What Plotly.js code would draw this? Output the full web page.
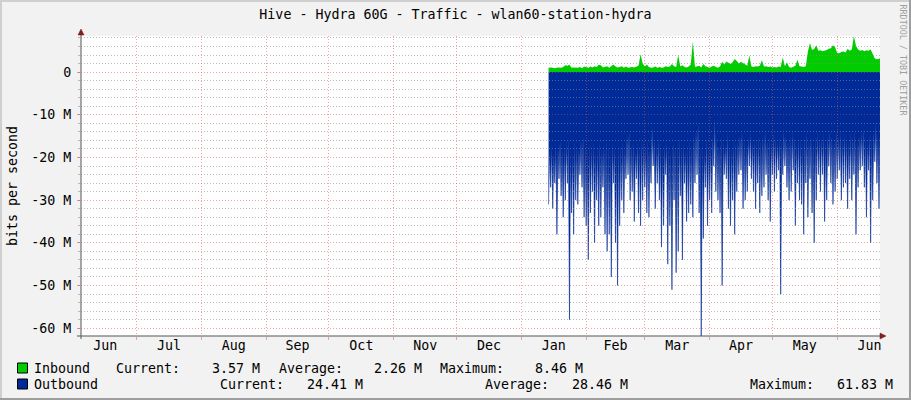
<!DOCTYPE html>
<html>
<head>
<meta charset="utf-8">
<script src="https://cdn.plot.ly/plotly-3.0.1.min.js"></script>
<style>
html,body{margin:0;padding:0;background:#F2F2F2;}
#chart{width:911px;height:400px;}
</style>
</head>
<body>
<div id="chart"></div>
<script>
// ---------------- data ----------------
const chartTitle = 'Hive - Hydra 60G - Traffic - wlan60-station-hydra';
const yAxisTitle = 'bits per second';
const firstSampleDay = '2023-01-14';           // one sample per day
const xRange = ['2022-06-04 10:30', '2023-06-21 11:30'];
const yRange = [-61.83, 8.46];                  // in M bits per second

// Inbound (positive, M)
const inbound = [
  1.0, 1.1, 1.0, 0.9, 1.0, 1.1, 1.0, 1.2, 1.6, 1.5,
  1.7, 1.0, 1.1, 1.0, 1.0, 1.2, 0.9, 1.3, 1.1, 1.0,
  1.3, 1.1, 1.4, 1.2, 1.7, 1.6, 1.1, 1.2, 1.4, 1.0,
  1.5, 1.8, 1.3, 1.1, 1.2, 1.4, 1.0, 1.3, 1.0, 1.1,
  1.2, 1.1, 1.3, 1.5, 4.2, 2.0, 1.3, 1.8, 1.2, 1.0,
  1.1, 1.3, 1.0, 1.2, 1.0, 1.1, 1.4, 1.2, 1.3, 1.9,
  1.4, 1.2, 4.0, 1.3, 1.6, 1.2, 1.1, 1.3, 1.8, 7.2,
  1.2, 1.3, 1.5, 1.1, 1.9, 1.4, 1.2, 1.0, 1.3, 1.5,
  1.2, 1.0, 1.3, 2.4, 1.8, 2.5, 2.2, 1.9, 2.3, 3.1,
  2.6, 2.0, 2.4, 2.1, 1.6, 1.5, 3.9, 1.3, 1.2, 1.4,
  1.3, 1.5, 2.8, 1.3, 1.4, 1.2, 1.3, 1.1, 1.2, 1.1,
  1.3, 1.2, 3.4, 1.4, 2.3, 1.2, 1.0, 1.3, 1.5, 2.9,
  1.4, 1.3, 1.2, 1.4, 4.8, 6.8, 5.2, 5.4, 6.3, 5.0,
  5.1, 4.9, 5.0, 5.2, 5.5, 5.6, 6.3, 5.8, 4.5, 4.4,
  4.7, 4.8, 4.6, 5.5, 5.0, 5.3, 8.46, 6.2, 5.3, 5.0,
  5.2, 4.9, 5.1, 5.0, 5.3, 4.4, 3.2, 3.0, 3.1, 3.57
];

// Outbound, deepest value of each day (negative, M)
const outboundPeak = [
  -31, -27, -32, -26, -38, -25, -29, -34, -30, -26,
  -58, -33, -38, -30, -31, -24, -27, -34, -36, -44,
  -33, -28, -40, -30, -36, -34, -27, -38, -42, -38,
  -48, -26, -40, -50, -36, -30, -33, -25, -24, -30,
  -28, -35, -25, -33, -36, -30, -27, -33, -34, -26,
  -22, -32, -26, -30, -41, -36, -24, -45, -36, -51,
  -30, -47, -42, -29, -44, -26, -35, -33, -31, -34,
  -26, -24, -33, -61.83, -39, -27, -36, -30, -33, -22,
  -28, -30, -33, -50, -24, -25, -32, -36, -30, -38,
  -28, -24, -23, -32, -30, -28, -22, -25, -28, -32,
  -26, -33, -29, -27, -24, -30, -35, -24, -28, -25,
  -23, -52, -24, -22, -27, -30, -28, -23, -36, -26,
  -30, -31, -38, -26, -34, -25, -33, -40, -30, -24,
  -28, -24, -35, -30, -22, -26, -31, -28, -25, -23,
  -30, -27, -26, -32, -25, -30, -24, -38, -27, -23,
  -22, -27, -34, -23, -40, -30, -21, -26, -32, -24.41
];

// Outbound, shallowest value half a day later (negative, M)
const outboundTrough = [
  -18, -17, -19, -17, -18, -16, -18, -17, -16, -15,
  -17, -18, -16, -17, -18, -16, -15, -17, -18, -16,
  -17, -16, -18, -17, -16, -18, -17, -16, -17, -18,
  -16, -17, -18, -16, -17, -16, -18, -15, -14, -17,
  -16, -18, -16, -17, -15, -16, -17, -16, -18, -13,
  -16, -17, -15, -16, -18, -17, -16, -17, -18, -16,
  -17, -16, -15, -17, -16, -18, -17, -16, -17, -15,
  -14, -12, -17, -16, -18, -15, -17, -16, -15, -11,
  -16, -17, -15, -16, -17, -14, -16, -17, -15, -16,
  -16, -15, -14, -16, -17, -15, -14, -16, -15, -16,
  -15, -16, -15, -14, -16, -15, -16, -14, -15, -16,
  -15, -16, -14, -15, -16, -15, -14, -15, -16, -15,
  -15, -16, -15, -14, -16, -15, -16, -15, -14, -15,
  -15, -14, -16, -15, -14, -15, -16, -14, -15, -14,
  -15, -14, -15, -16, -14, -15, -14, -16, -15, -14,
  -13, -15, -16, -14, -15, -14, -12, -15, -14, -15
];

const yTickValues = [0, -10, -20, -30, -40, -50, -60];
const yTickLabels = ['0', '-10 M', '-20 M', '-30 M', '-40 M', '-50 M', '-60 M'];

const seriesNames   = ['Inbound', 'Outbound'];
const seriesColors  = ['#00CC00', '#002A97'];
const currentVals   = ['3.57 M', '24.41 M'];
const averageVals   = ['2.26 M', '28.46 M'];
const maximumVals   = ['8.46 M', '61.83 M'];
const creditText    = 'RRDTOOL / TOBI OETIKER';

// ---------------- build series ----------------
function dayString(i, hour) {
  const p = firstSampleDay.split('-').map(Number);
  const d = new Date(Date.UTC(p[0], p[1] - 1, p[2] + i, hour));
  return d.toISOString().slice(0, 16).replace('T', ' ');
}
const inX = inbound.map((_, i) => dayString(i, 0));
const outX = [], outY = [];
outboundPeak.forEach((v, i) => {
  outX.push(dayString(i, 0));  outY.push(v);
  outX.push(dayString(i, 12)); outY.push(outboundTrough[i]);
});

// ---------------- layout helpers ----------------
const FONT = 'DejaVu Sans Mono, monospace';
const FS = 13.3;
const L = 81, R = 880, T = 36, B = 336;
const px = x => (x - L) / (R - L);
const py = y => (B - y) / (B - T);

const gridGrey = 'rgba(143,143,143,0.6)';
const gridRed  = 'rgba(222,79,79,0.5)';
const dash = '1px,2px';

const traces = [
  {type: 'scatter', mode: 'lines', x: outX, y: outY, name: seriesNames[1],
   fill: 'tozeroy', fillcolor: seriesColors[1], line: {color: seriesColors[1], width: 0.6},
   hoverinfo: 'skip', xaxis: 'x', yaxis: 'y'},
  {type: 'scatter', mode: 'lines', x: inX, y: inbound, name: seriesNames[0],
   fill: 'tozeroy', fillcolor: seriesColors[0], line: {color: seriesColors[0], width: 0},
   hoverinfo: 'skip', xaxis: 'x', yaxis: 'y'},
  // empty trace that owns the grid subplot drawn above the areas
  {type: 'scatter', mode: 'lines', x: [], y: [], xaxis: 'x2', yaxis: 'y2',
   hoverinfo: 'skip', showlegend: false}
];

const shapes = [
  // white canvas
  {type: 'rect', xref: 'paper', yref: 'paper', x0: 0, x1: 1, y0: 0, y1: 1,
   fillcolor: '#FFFFFF', line: {width: 0}, layer: 'below'},
  // frame (shade A top/left, shade B bottom/right)
  {type: 'rect', xref: 'paper', yref: 'paper', x0: px(0), x1: px(911), y0: py(2), y1: py(0),
   fillcolor: '#CFCFCF', line: {width: 0}},
  {type: 'rect', xref: 'paper', yref: 'paper', x0: px(0), x1: px(2), y0: py(400), y1: py(0),
   fillcolor: '#CFCFCF', line: {width: 0}},
  {type: 'rect', xref: 'paper', yref: 'paper', x0: px(909), x1: px(911), y0: py(400), y1: py(0),
   fillcolor: '#9E9E9E', line: {width: 0}},
  {type: 'rect', xref: 'paper', yref: 'paper', x0: px(0), x1: px(911), y0: py(400), y1: py(398),
   fillcolor: '#9E9E9E', line: {width: 0}},
  // axis lines with their small overhangs
  {type: 'line', xref: 'paper', yref: 'paper', x0: 0, x1: 0, y0: py(339), y1: py(31),
   line: {color: '#555555', width: 1}},
  {type: 'line', xref: 'paper', yref: 'paper', x0: px(77), x1: px(884), y0: 0, y1: 0,
   line: {color: '#555555', width: 1}},
  // arrows
  {type: 'path', xref: 'paper', yref: 'paper',
   path: `M ${px(81)} ${py(29)} L ${px(78)} ${py(35)} L ${px(84)} ${py(35)} Z`,
   fillcolor: '#801F1F', line: {color: '#801F1F', width: 0.5}},
  {type: 'path', xref: 'paper', yref: 'paper',
   path: `M ${px(886)} ${py(336)} L ${px(880)} ${py(333)} L ${px(880)} ${py(339)} Z`,
   fillcolor: '#801F1F', line: {color: '#801F1F', width: 0.5}},
  // legend swatches
  {type: 'rect', xref: 'paper', yref: 'paper', x0: px(17.5), x1: px(27.5), y0: py(373), y1: py(363),
   fillcolor: seriesColors[0], line: {color: '#000000', width: 1}},
  {type: 'rect', xref: 'paper', yref: 'paper', x0: px(17.5), x1: px(27.5), y0: py(389), y1: py(379),
   fillcolor: seriesColors[1], line: {color: '#000000', width: 1}}
];

function txt(text, x, y, extra) {
  return Object.assign({text: text, xref: 'paper', yref: 'paper', x: px(x), y: py(y),
    xanchor: 'left', yanchor: 'middle', showarrow: false, borderpad: 0, borderwidth: 0,
    font: {family: FONT, size: FS, color: '#000000'}}, extra || {});
}
const annotations = [
  txt(seriesNames[0], 33.7, 368), txt('Current:', 116, 368), txt(currentVals[0], 212, 368),
  txt('Average:', 279, 368), txt(averageVals[0], 373.6, 368),
  txt('Maximum:', 440, 368), txt(maximumVals[0], 534.5, 368),
  txt(seriesNames[1], 33.7, 384), txt('Current:', 219.6, 384), txt(currentVals[1], 306.8, 384),
  txt('Average:', 485, 384), txt(averageVals[1], 572, 384),
  txt('Maximum:', 749.5, 384), txt(maximumVals[1], 836.6, 384),
  txt(creditText, 902.5, 60, {xanchor: 'center', textangle: 90,
      font: {family: FONT, size: 8.4, color: '#9E9E9E'}}),
  txt(yAxisTitle, 12, 186, {xanchor: 'center', textangle: -90})
];

const layout = {
  width: 911, height: 400,
  margin: {l: L, r: 911 - R, t: T, b: 400 - B, pad: 0},
  paper_bgcolor: '#F2F2F2', plot_bgcolor: 'rgba(0,0,0,0)',
  showlegend: false,
  font: {family: FONT, size: FS, color: '#000000'},
  title: {text: chartTitle, xref: 'container', x: 0.5, xanchor: 'center',
          yref: 'container', y: 1 - 14 / 400, yanchor: 'middle',
          font: {family: FONT, size: FS, color: '#000000'}},
  xaxis: {type: 'date', range: xRange, dtick: 'M1', tickformat: '%b', ticklabelmode: 'period',
          showgrid: false, zeroline: false, showline: false,
          ticks: 'outside', ticklen: 3, tickcolor: gridRed, tickwidth: 1,
          ticklabelstandoff: -6, tickfont: {family: FONT, size: FS, color: '#000000'}},
  yaxis: {range: yRange, tickmode: 'array', tickvals: yTickValues, ticktext: yTickLabels,
          showgrid: false, zeroline: false, showline: false,
          ticks: 'outside', ticklen: 3, tickcolor: gridRed, tickwidth: 1,
          ticklabelstandoff: 3,
          minor: {tickmode: 'linear', tick0: 0, dtick: 2, ticks: 'outside', ticklen: 2,
                  tickcolor: gridGrey, showgrid: false},
          tickfont: {family: FONT, size: FS, color: '#000000'}},
  xaxis2: {type: 'date', range: xRange, anchor: 'y2', dtick: 'M1',
           showgrid: true, gridcolor: gridRed, griddash: dash, gridwidth: 1,
           showticklabels: false, ticks: '', zeroline: false, showline: false},
  yaxis2: {range: yRange, anchor: 'x2', tickmode: 'linear', tick0: 0, dtick: 10,
           showgrid: true, gridcolor: gridRed, griddash: dash, gridwidth: 1,
           showticklabels: false, ticks: '', zeroline: false, showline: false,
           minor: {tickmode: 'linear', tick0: 0, dtick: 2, showgrid: true,
                   gridcolor: gridGrey, griddash: dash, gridwidth: 1}},
  shapes: shapes,
  annotations: annotations
};

Plotly.newPlot('chart', traces, layout, {displayModeBar: false, staticPlot: true});
</script>
</body>
</html>
